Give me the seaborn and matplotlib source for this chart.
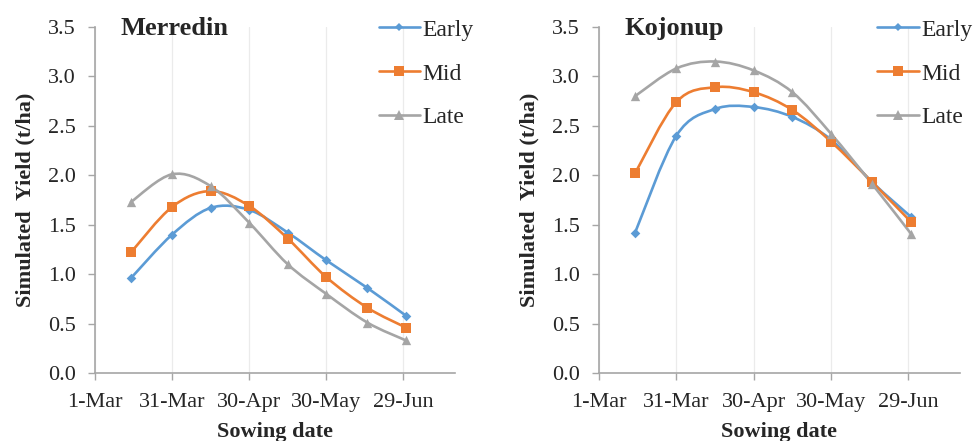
import numpy as np
import pandas as pd
import matplotlib
matplotlib.use("Agg")
import matplotlib.pyplot as plt
import matplotlib.dates as mdates
from matplotlib.path import Path
from matplotlib.patches import PathPatch
from matplotlib.lines import Line2D
import seaborn as sns

# ---------------- data ----------------
sowing_dates = ["2015-03-15", "2015-03-31", "2015-04-15", "2015-04-30",
                "2015-05-15", "2015-05-30", "2015-06-15", "2015-06-30"]
series_names = ["Early", "Mid", "Late"]

merredin_early = [0.96, 1.40, 1.67, 1.65, 1.42, 1.14, 0.86, 0.58]
merredin_mid = [1.22, 1.68, 1.84, 1.69, 1.36, 0.97, 0.66, 0.46]
merredin_late = [1.73, 2.01, 1.89, 1.52, 1.10, 0.80, 0.51, 0.33]

kojonup_early = [1.42, 2.40, 2.67, 2.69, 2.59, 2.36, 1.93, 1.58]
kojonup_mid = [2.02, 2.74, 2.89, 2.84, 2.66, 2.34, 1.93, 1.53]
kojonup_late = [2.80, 3.08, 3.15, 3.06, 2.84, 2.42, 1.91, 1.41]

tick_dates = ["2015-03-01", "2015-03-31", "2015-04-30", "2015-05-30", "2015-06-29"]
tick_labels = ["1-Mar", "31-Mar", "30-Apr", "30-May", "29-Jun"]
y_ticks = [0.0, 0.5, 1.0, 1.5, 2.0, 2.5, 3.0, 3.5]

sites = {"Merredin": [merredin_early, merredin_mid, merredin_late],
         "Kojonup": [kojonup_early, kojonup_mid, kojonup_late]}

colors = {"Early": "#5B9BD5", "Mid": "#ED7D31", "Late": "#A5A5A5"}
markers = {"Early": "D", "Mid": "s", "Late": "^"}
msizes = {"Early": 24, "Mid": 50, "Late": 45}

# ---------------- style ----------------
sns.set_theme(style="white")
plt.rcParams["font.family"] = ["Liberation Serif", "DejaVu Serif"]
plt.rcParams["axes.edgecolor"] = "#A6A6A6"

fig = plt.figure(figsize=(9.74, 4.41), dpi=100)
ax_pos = [[0.0975, 0.154, 0.3695, 0.785], [0.615, 0.154, 0.3705, 0.785]]
legend_x = [0.762, 0.745]

x_start = pd.Timestamp("2015-03-01")
x_end = x_start + pd.Timedelta(days=140)


def smooth_path(xs, ys):
    pts = np.column_stack([xs, ys])
    n = len(pts)
    ext = np.vstack([pts[0], pts, pts[-1]])
    verts = [pts[0]]
    codes = [Path.MOVETO]
    for i in range(n - 1):
        p0, p1, p2, p3 = ext[i], ext[i + 1], ext[i + 2], ext[i + 3]
        c1 = p1 + (p2 - p0) / 6.0
        c2 = p2 - (p3 - p1) / 6.0
        verts += [c1, c2, p2]
        codes += [Path.CURVE4] * 3
    return Path(np.array(verts), codes)


for (site, vals), pos, lx in zip(sites.items(), ax_pos, legend_x):
    ax = fig.add_axes(pos)
    rows = []
    for name, v in zip(series_names, vals):
        for d, y in zip(sowing_dates, v):
            rows.append({"date": pd.Timestamp(d), "yield": y, "timing": name})
    df = pd.DataFrame(rows)

    # smooth connecting lines (Excel-style smoothing) built from the data
    for name in series_names:
        sub = df[df["timing"] == name]
        xs = mdates.date2num(sub["date"])
        path = smooth_path(xs, sub["yield"].values)
        ax.add_patch(PathPatch(path, fill=False, edgecolor=colors[name], lw=1.9,
                               zorder=2, capstyle="round"))

    for name in series_names:
        sub = df[df["timing"] == name]
        sns.scatterplot(data=sub, x="date", y="yield", color=colors[name],
                        marker=markers[name], s=msizes[name], linewidth=0,
                        ax=ax, legend=False, zorder=3)

    ax.set_xlim(x_start, x_end)
    ax.set_ylim(0, 3.5)
    ax.set_xticks(pd.to_datetime(tick_dates))
    ax.set_xticklabels(tick_labels, fontsize=16)
    ax.set_yticks(y_ticks)
    ax.set_yticklabels([f"{t:.1f}" for t in y_ticks], fontsize=16)
    ax.tick_params(axis="both", which="major", length=5, width=1,
                   color="#A6A6A6", direction="out", left=True, bottom=True)
    ax.tick_params(axis="y", pad=9)
    ax.tick_params(axis="x", pad=9.5)
    ax.xaxis.grid(True, color="#EBEBEB", lw=0.9)
    ax.yaxis.grid(False)
    ax.set_axisbelow(True)
    for s in ["top", "right"]:
        ax.spines[s].set_visible(False)
    for s in ["left", "bottom"]:
        ax.spines[s].set_color("#A6A6A6")
        ax.spines[s].set_linewidth(1.2)

    ax.set_xlabel("Sowing date", fontsize=16, fontweight="bold", labelpad=7)
    ax.set_ylabel("Simulated  Yield (t/ha)", fontsize=16, fontweight="bold", labelpad=9)
    ax.text(0.07, 0.995, site, transform=ax.transAxes, fontsize=19,
            fontweight="bold", va="center", ha="left")

    handles = [Line2D([0], [0], color=colors[n], lw=1.9, marker=markers[n],
                      markersize={"Early": 4.5, "Mid": 7, "Late": 6.5}[n],
                      markeredgewidth=0) for n in series_names]
    ax.legend(handles, series_names, loc="upper left",
              bbox_to_anchor=(lx, 1.05), frameon=False, fontsize=17,
              handlelength=1.75, handletextpad=0.1, labelspacing=0.95,
              borderaxespad=0)

fig.savefig("out.png", dpi=100)
